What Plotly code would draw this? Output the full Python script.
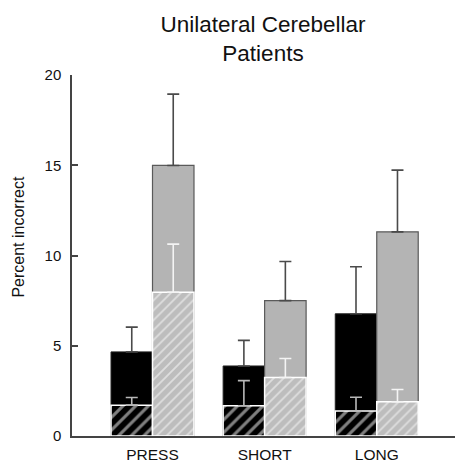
import plotly.graph_objects as go

categories = ["PRESS", "SHORT", "LONG"]

black_total = [4.66, 3.88, 6.77]
black_total_err = [6.03, 5.30, 9.38]
gray_total = [14.99, 7.50, 11.31]
gray_total_err = [18.94, 9.67, 14.73]

black_hatch = [1.71, 1.68, 1.38]
black_hatch_err = [2.13, 3.07, 2.15]
gray_hatch = [7.96, 3.24, 1.90]
gray_hatch_err = [10.63, 4.29, 2.58]

y_ticks = [0, 5, 10, 15, 20]

W = 0.37
FONT = "Liberation Sans, Arial, sans-serif"


def up_err(tops, vals):
    return [t - v for t, v in zip(tops, vals)]


fig = go.Figure()

fig.add_trace(go.Bar(
    x=categories, y=black_total, width=W, offset=-W,
    marker=dict(color="black", line=dict(color="#222222", width=1)),
    error_y=dict(type="data", symmetric=False, array=up_err(black_total_err, black_total),
                 arrayminus=[0, 0, 0], color="#4a4a4a", thickness=1.6, width=6),
    showlegend=False))

fig.add_trace(go.Bar(
    x=categories, y=gray_total, width=W, offset=0,
    marker=dict(color="#b4b4b4", line=dict(color="#5a5a5a", width=1.2)),
    error_y=dict(type="data", symmetric=False, array=up_err(gray_total_err, gray_total),
                 arrayminus=[0, 0, 0], color="#4a4a4a", thickness=1.6, width=6),
    showlegend=False))

fig.add_trace(go.Bar(
    x=categories, y=black_hatch, width=W, offset=-W,
    marker=dict(color="black", line=dict(color="white", width=1.5),
                pattern=dict(shape="/", bgcolor="black", fgcolor="white",
                             size=9, solidity=0.35)),
    error_y=dict(type="data", symmetric=False, array=up_err(black_hatch_err, black_hatch),
                 arrayminus=[0, 0, 0], color="#b8b8b8", thickness=1.6, width=6),
    showlegend=False))

fig.add_trace(go.Bar(
    x=categories, y=gray_hatch, width=W, offset=0,
    marker=dict(color="#c0c0c0", line=dict(color="white", width=1.5),
                pattern=dict(shape="/", bgcolor="#bdbdbd", fgcolor="white",
                             size=7, solidity=0.25)),
    error_y=dict(type="data", symmetric=False, array=up_err(gray_hatch_err, gray_hatch),
                 arrayminus=[0, 0, 0], color="#f4f4f4", thickness=1.6, width=6),
    showlegend=False))

fig.add_annotation(
    text="Percent incorrect", textangle=-90,
    xref="paper", yref="paper", x=-(72 - 18.5) / 383, y=(438 - 238) / 363,
    xanchor="center", yanchor="middle", showarrow=False,
    font=dict(size=16, family=FONT, color="#111111"))

fig.update_layout(
    width=457, height=465,
    margin=dict(l=72, r=2, t=75, b=27),
    barmode="overlay",
    paper_bgcolor="white", plot_bgcolor="white",
    font=dict(family=FONT, color="black"),
    title=dict(text="Unilateral Cerebellar<br>Patients", x=263 / 457, xanchor="center",
               y=1 - 32 / 465, yanchor="top", font=dict(size=22.5, family=FONT, color="#111111")),
    xaxis=dict(range=[-0.718, 2.698], showgrid=False, zeroline=False,
               showline=True, linecolor="#444444", linewidth=1.5,
               ticks="", tickfont=dict(size=15.5, family=FONT, color="#111111"),
               ticklabelstandoff=4),
    yaxis=dict(range=[0, 20], tickvals=y_ticks, showgrid=False, zeroline=False,
               showline=True, linecolor="#444444", linewidth=1.5,
               ticks="inside", ticklen=6, tickwidth=1.5, tickcolor="#444444",
               tickfont=dict(size=15, family=FONT, color="#111111"),
               ticklabelstandoff=6),
)

fig.write_html("out.html")
